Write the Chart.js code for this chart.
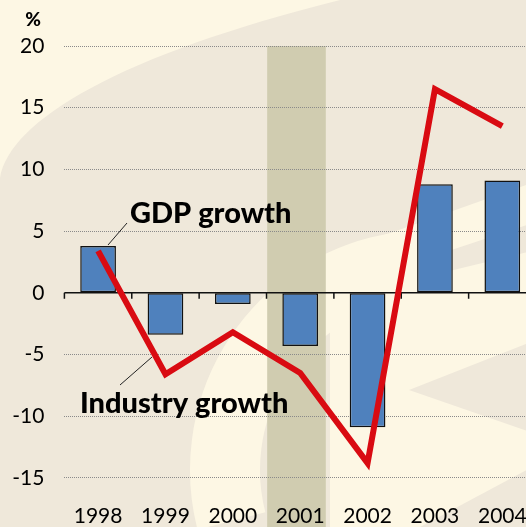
<!DOCTYPE html>
<html>
<head>
<meta charset="utf-8">
<script src="https://cdn.jsdelivr.net/npm/chart.js@4.4.0/dist/chart.umd.min.js"></script>
<style>
  html, body { margin: 0; padding: 0; overflow: hidden; background: #efe8da; }
  #wrap { width: 526px; height: 527px; overflow: hidden; }
</style>
</head>
<body>
<div id="wrap"><canvas id="growth" width="536" height="527"></canvas></div>
<script>
var years = ['1998', '1999', '2000', '2001', '2002', '2003', '2004'];
var gdpGrowth = [3.8, -3.4, -0.9, -4.3, -10.9, 8.8, 9.1];
var industryGrowth = [3.4, -6.6, -3.2, -6.5, -13.8, 16.5, 13.5];
var yTicks = [-15, -10, -5, 0, 5, 10, 15, 20];
// recession shading, in category units
var shadeFrom = 2.51;
var shadeTo = 3.38;

var font = 'Lato, "Open Sans", sans-serif';

function drawBackground(ctx, w, h) {
  ctx.save();
  ctx.fillStyle = '#efe8da';
  ctx.fillRect(0, 0, w, h);
  ctx.fillStyle = '#fdf7e4';
  // top left corner
  ctx.beginPath();
  ctx.moveTo(0, 0);
  ctx.lineTo(0, 178);
  ctx.bezierCurveTo(10, 120, 120, 55, 340, 0);
  ctx.closePath();
  ctx.fill();
  // big ring
  ctx.strokeStyle = '#fdf7e4';
  ctx.lineWidth = 70;
  ctx.beginPath();
  ctx.arc(430, 470, 205, Math.PI * 0.92, Math.PI * 1.52);
  ctx.stroke();
  // right side
  ctx.beginPath();
  ctx.moveTo(300, 265);
  ctx.lineTo(526, 185);
  ctx.lineTo(536, 185);
  ctx.lineTo(536, 222);
  ctx.lineTo(300, 300);
  ctx.closePath();
  ctx.fill();
  ctx.beginPath();
  ctx.moveTo(330, 300);
  ctx.lineTo(536, 250);
  ctx.lineTo(536, 527);
  ctx.lineTo(330, 527);
  ctx.closePath();
  ctx.fill();
  ctx.fillStyle = '#efe8da';
  ctx.beginPath();
  ctx.moveTo(409, 390);
  ctx.lineTo(536, 340);
  ctx.lineTo(536, 434);
  ctx.closePath();
  ctx.fill();
  ctx.beginPath();
  ctx.moveTo(420, 527);
  ctx.lineTo(536, 465);
  ctx.lineTo(536, 527);
  ctx.closePath();
  ctx.fill();
  ctx.restore();
}

var decorPlugin = {
  id: 'decor',
  beforeDraw: function(chart) {
    var ctx = chart.ctx;
    var x = chart.scales.x, y = chart.scales.y;
    drawBackground(ctx, chart.width, chart.height);
    var step = x.getPixelForValue(1) - x.getPixelForValue(0);
    var x0 = x.getPixelForValue(0) + shadeFrom * step;
    var x1 = x.getPixelForValue(0) + shadeTo * step;
    ctx.save();
    ctx.fillStyle = '#d0ccb0';
    ctx.fillRect(x0, y.getPixelForValue(20), x1 - x0, chart.height);
    ctx.restore();
  },
  beforeDatasetsDraw: function(chart) {
    var ctx = chart.ctx;
    var x = chart.scales.x, y = chart.scales.y;
    var zero = y.getPixelForValue(0);
    var step = x.getPixelForValue(1) - x.getPixelForValue(0);
    ctx.save();
    ctx.strokeStyle = '#111';
    ctx.lineWidth = 1.5;
    ctx.beginPath();
    ctx.moveTo(chart.chartArea.left, zero);
    ctx.lineTo(chart.chartArea.right, zero);
    for (var i = 0; i < years.length; i++) {
      var tx = x.getPixelForValue(i) - step / 2;
      ctx.moveTo(tx, zero);
      ctx.lineTo(tx, zero + 6);
    }
    ctx.stroke();
    ctx.restore();
  },
  afterDraw: function(chart) {
    var ctx = chart.ctx;
    ctx.save();
    ctx.fillStyle = '#000';
    ctx.textAlign = 'center';
    ctx.textBaseline = 'middle';
    ctx.font = '900 19px ' + font;
    ctx.fillText('%', 33, 20);

    ctx.textAlign = 'left';
    ctx.textBaseline = 'alphabetic';
    ctx.font = '900 29px ' + font;
    ctx.fillText('GDP growth', 130, 223);
    ctx.fillText('Industry growth', 80, 413);

    ctx.strokeStyle = '#222';
    ctx.lineWidth = 1;
    ctx.beginPath();
    ctx.moveTo(127, 223);
    ctx.lineTo(108, 245);
    ctx.moveTo(120, 385);
    ctx.lineTo(152, 357);
    ctx.stroke();
    ctx.restore();
  }
};

new Chart(document.getElementById('growth'), {
  type: 'bar',
  data: {
    labels: years,
    datasets: [{
      type: 'line',
      label: 'Industry growth',
      data: industryGrowth,
      borderColor: '#d90b12',
      borderWidth: 6,
      borderJoinStyle: 'miter',
      pointRadius: 0,
      tension: 0,
      order: 0
    }, {
      label: 'GDP growth',
      data: gdpGrowth,
      backgroundColor: '#4f81bd',
      borderColor: '#111',
      borderWidth: 1.5,
      borderSkipped: false,
      barPercentage: 0.53,
      categoryPercentage: 1,
      order: 1
    }]
  },
  options: {
    responsive: false,
    animation: false,
    layout: { padding: { top: 46, left: 0, right: 0, bottom: 0 } },
    plugins: {
      legend: { display: false },
      tooltip: { enabled: false }
    },
    scales: {
      x: {
        grid: { display: false, drawTicks: false },
        border: { display: false },
        ticks: { color: '#000', padding: 1, maxRotation: 0, font: { family: font, size: 21 } },
        afterFit: function(scale) {
          scale.height = 24.4;
          scale.paddingLeft = 0;
          scale.paddingRight = 0;
        }
      },
      y: {
        min: -17,
        max: 20,
        afterBuildTicks: function(scale) {
          scale.ticks = yTicks.map(function(v) { return { value: v }; });
        },
        afterFit: function(scale) {
          scale.width = 64.4;
          scale.paddingTop = 0;
          scale.paddingBottom = 0;
        },
        grid: {
          drawTicks: false,
          lineWidth: 1,
          color: function(c) { return c.tick && c.tick.value === 0 ? 'rgba(0,0,0,0)' : '#8a8a8a'; }
        },
        border: { display: false, dash: [1, 1] },
        ticks: { color: '#000', padding: 20, font: { family: font, size: 21 } }
      }
    }
  },
  plugins: [decorPlugin]
});
</script>
</body>
</html>
